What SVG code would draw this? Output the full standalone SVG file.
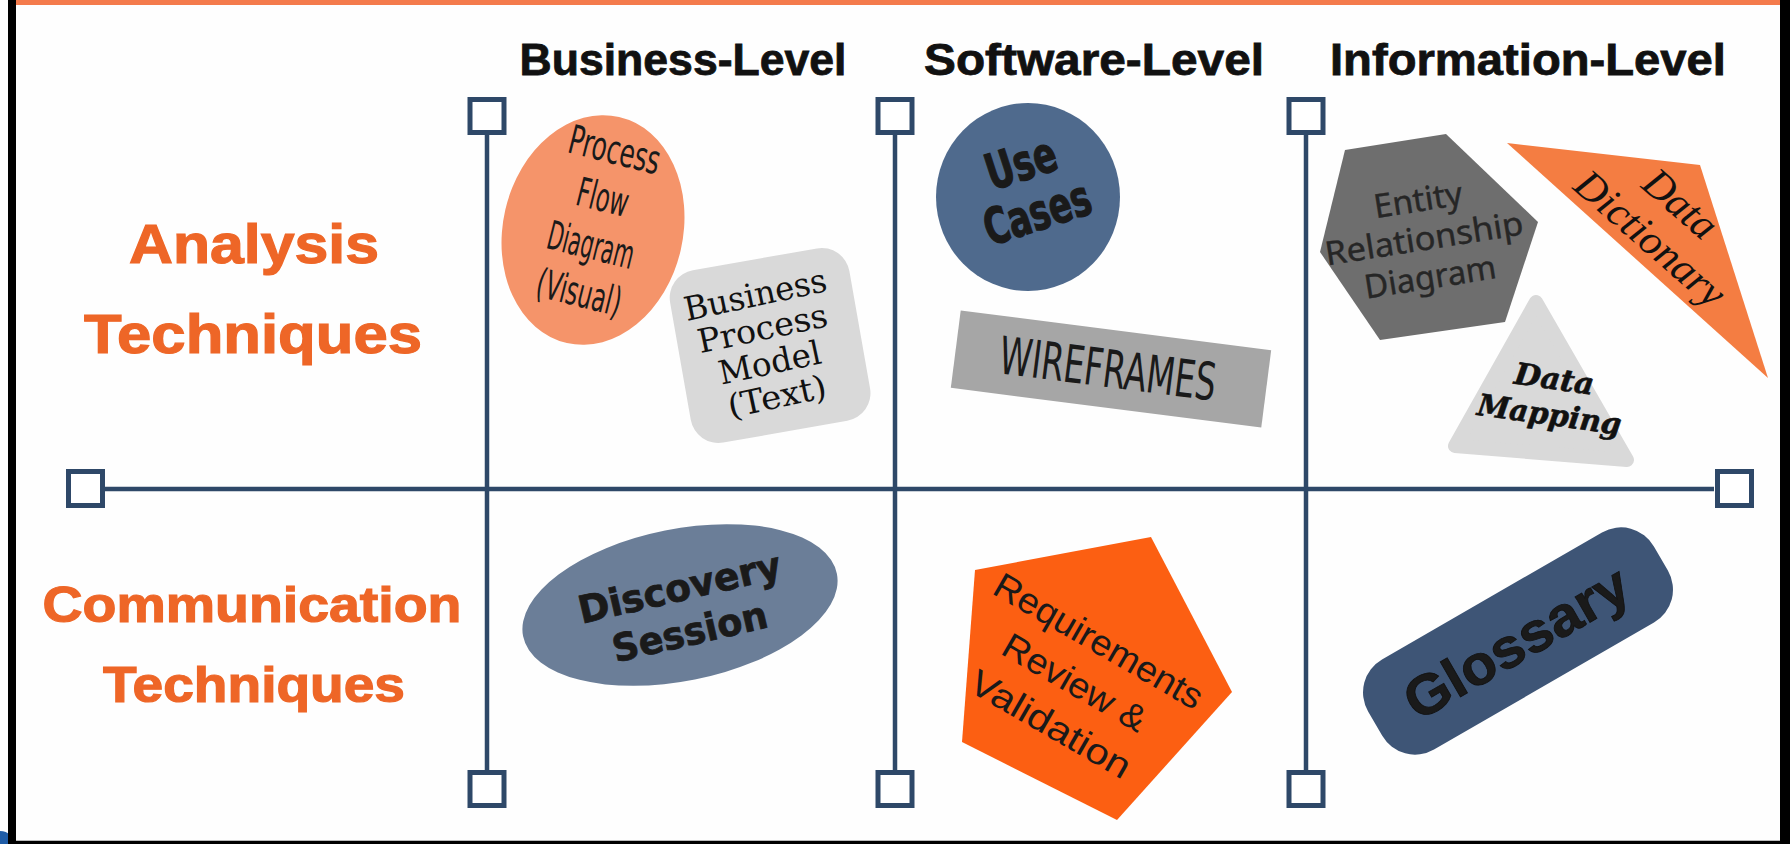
<svg xmlns="http://www.w3.org/2000/svg" width="1790" height="844" viewBox="0 0 1790 844">
<style>
.sq{fill:#fff;stroke:#2E4868;stroke-width:5}
.ln{stroke:#2E4868;stroke-width:4.5;fill:none}
text{text-anchor:middle}
.hdr{font-family:"Liberation Sans",Arial,sans-serif;font-weight:bold;font-size:44px;fill:#111;stroke:#111;stroke-width:0.8}
.lbl{font-family:"Liberation Sans",Arial,sans-serif;font-weight:bold;fill:#EE6627;stroke:#EE6627;stroke-width:1.2}
.cond{font-family:"Liberation Sans Narrow","DejaVu Sans Condensed","Liberation Sans",sans-serif;font-stretch:condensed;fill:#1a1a1a}
.serif{font-family:"DejaVu Serif","Liberation Serif",serif;font-size:33px;fill:#111}
.heavy{font-family:"DejaVu Sans","Liberation Sans",sans-serif;font-weight:bold;fill:#1a1a1a}
.sans{font-family:"Liberation Sans",Arial,sans-serif;fill:#1a1a1a}
.noto{font-family:"Noto Sans","Open Sans",sans-serif;font-size:33px;fill:#262626;stroke:#262626;stroke-width:0.4}
</style>
<rect x="0" y="0" width="1790" height="844" fill="#fefefe"/>
<circle cx="0" cy="846" r="15" fill="#1F5CA6"/>
<rect x="8" y="0" width="8" height="844" fill="#000"/>
<rect x="1780" y="0" width="10" height="844" fill="#000"/>
<rect x="16" y="0" width="1764" height="5" fill="#F47B4C"/>
<rect x="16" y="840" width="1764" height="1.5" fill="#bbb"/>
<rect x="8" y="841" width="1782" height="3" fill="#000"/>

<g id="headers">
<text class="hdr" x="683" y="75" textLength="327" lengthAdjust="spacingAndGlyphs">Business-Level</text>
<text class="hdr" x="1094" y="75" textLength="340" lengthAdjust="spacingAndGlyphs">Software-Level</text>
<text class="hdr" x="1528" y="75" textLength="396" lengthAdjust="spacingAndGlyphs">Information-Level</text>
</g>
<g id="row-labels">
<text class="lbl" x="254" y="263" font-size="56" textLength="250" lengthAdjust="spacingAndGlyphs">Analysis</text>
<text class="lbl" x="253" y="353" font-size="56" textLength="338" lengthAdjust="spacingAndGlyphs">Techniques</text>
<text class="lbl" x="252" y="622" font-size="50" textLength="419" lengthAdjust="spacingAndGlyphs">Communication</text>
<text class="lbl" x="254" y="702" font-size="50" textLength="302" lengthAdjust="spacingAndGlyphs">Techniques</text>
</g>

<g id="connectors">
<line class="ln" x1="105" y1="489" x2="1714" y2="489"/>
<line class="ln" x1="487" y1="133" x2="487" y2="770"/>
<line class="ln" x1="895" y1="133" x2="895" y2="770"/>
<line class="ln" x1="1306" y1="133" x2="1306" y2="770"/>
</g>
<g id="axis-markers">
<rect class="sq" x="470" y="99.5" width="34" height="33"/>
<rect class="sq" x="878" y="99.5" width="34" height="33"/>
<rect class="sq" x="1289" y="99.5" width="34" height="33"/>
<rect class="sq" x="470" y="772.5" width="34" height="33"/>
<rect class="sq" x="878" y="772.5" width="34" height="33"/>
<rect class="sq" x="1289" y="772.5" width="34" height="33"/>
<rect class="sq" x="68.5" y="471.5" width="34" height="34"/>
<rect class="sq" x="1717.5" y="471.5" width="34" height="34"/>
</g>

<g id="node-process-flow-diagram">
<ellipse cx="593" cy="230" rx="90" ry="116" transform="rotate(13 593 230)" fill="#F5946A"/>
<g class="cond" font-size="40" transform="translate(597 221) rotate(14)">
<text y="-59.5" textLength="93" lengthAdjust="spacingAndGlyphs">Process</text>
<text y="-10.5" textLength="52" lengthAdjust="spacingAndGlyphs">Flow</text>
<text y="38.5" textLength="88" lengthAdjust="spacingAndGlyphs">Diagram</text>
<text y="87.5" textLength="86" lengthAdjust="spacingAndGlyphs">(Visual)</text>
</g>
</g>

<g id="node-business-process-model">
<rect x="-91" y="-87" width="182" height="175" rx="28" transform="translate(770 345) rotate(-10)" fill="#D9D9D9"/>
<g class="serif" transform="translate(766 345) rotate(-12)">
<text y="-40" textLength="145" lengthAdjust="spacingAndGlyphs">Business</text>
<text y="-5.5" textLength="132" lengthAdjust="spacingAndGlyphs">Process</text>
<text y="29.5" textLength="104" lengthAdjust="spacingAndGlyphs">Model</text>
<text y="64" textLength="100" lengthAdjust="spacingAndGlyphs">(Text)</text>
</g>
</g>

<g id="node-use-cases">
<ellipse cx="1028" cy="197" rx="92" ry="94" fill="#4F6A8D"/>
<g class="cond" font-size="50" font-weight="bold" stroke="#1a1a1a" stroke-width="1.2" transform="translate(1029 188) rotate(-18)">
<text y="-8.75" textLength="72" lengthAdjust="spacingAndGlyphs">Use</text>
<text y="43.5" textLength="110" lengthAdjust="spacingAndGlyphs">Cases</text>
</g>
</g>

<g id="node-wireframes">
<rect x="-156.5" y="-39" width="313" height="78" transform="translate(1111 369) rotate(7.3)" fill="#A6A6A6"/>
<text class="cond" font-size="52" transform="translate(1108 368) rotate(7.3)" y="19" textLength="218" lengthAdjust="spacingAndGlyphs">WIREFRAMES</text>
</g>

<g id="node-entity-relationship-diagram">
<polygon points="1446,134 1345,150 1320,252 1380,340 1505,322 1538,222" fill="#6E6E6E"/>
<g class="noto" transform="translate(1424 238) rotate(-9)">
<text y="-27" textLength="89" lengthAdjust="spacingAndGlyphs">Entity</text>
<text y="12" textLength="200" lengthAdjust="spacingAndGlyphs">Relationship</text>
<text y="51" textLength="133" lengthAdjust="spacingAndGlyphs">Diagram</text>
</g>
</g>

<g id="node-data-dictionary">
<polygon points="1507,143 1700,165 1768,378" fill="#F47D42"/>
<g font-family="'Liberation Serif',serif" font-style="italic" font-size="42" fill="#111" transform="translate(1665.5 221) rotate(41)">
<text y="-9" textLength="84" lengthAdjust="spacingAndGlyphs">Data</text>
<text y="37" textLength="185" lengthAdjust="spacingAndGlyphs">Dictionary</text>
</g>
</g>

<g id="node-data-mapping">
<polygon points="1536,302 1455,446 1627,460" fill="#D9D9D9" stroke="#D9D9D9" stroke-width="14" stroke-linejoin="round"/>
<g font-family="'DejaVu Serif',serif" font-weight="bold" font-style="italic" font-size="30" fill="#111" stroke="#111" stroke-width="0.6" transform="translate(1552 396) rotate(8)">
<text y="-7" textLength="80" lengthAdjust="spacingAndGlyphs">Data</text>
<text y="29" textLength="145" lengthAdjust="spacingAndGlyphs">Mapping</text>
</g>
</g>

<g id="node-discovery-session">
<ellipse cx="680" cy="605" rx="160" ry="76" transform="rotate(-11.3 680 605)" fill="#6B7E98"/>
<g class="heavy" font-size="38" stroke="#1a1a1a" stroke-width="0.8" transform="translate(684.5 609) rotate(-13)">
<text y="-8.7" textLength="207" lengthAdjust="spacingAndGlyphs">Discovery</text>
<text y="36.7" textLength="158" lengthAdjust="spacingAndGlyphs">Session</text>
</g>
</g>

<g id="node-requirements-review">
<polygon points="975,570 1151,537 1232,692 1117,820 962,742" fill="#FC5F12"/>
<g class="sans" font-size="36" transform="translate(1075 682) rotate(30)">
<text y="-35" textLength="235" lengthAdjust="spacingAndGlyphs">Requirements</text>
<text y="13" textLength="160" lengthAdjust="spacingAndGlyphs">Review &amp;</text>
<text y="61" textLength="180" lengthAdjust="spacingAndGlyphs">Validation</text>
</g>
</g>

<g id="node-glossary">
<rect x="-165" y="-52" width="330" height="104" rx="38" transform="translate(1518 641) rotate(-30)" fill="#3E5576"/>
<text class="sans" font-weight="bold" font-size="56" fill="#111" stroke="#111" stroke-width="0.8" transform="translate(1516 642) rotate(-30)" y="20" textLength="250" lengthAdjust="spacingAndGlyphs">Glossary</text>
</g>
</svg>
